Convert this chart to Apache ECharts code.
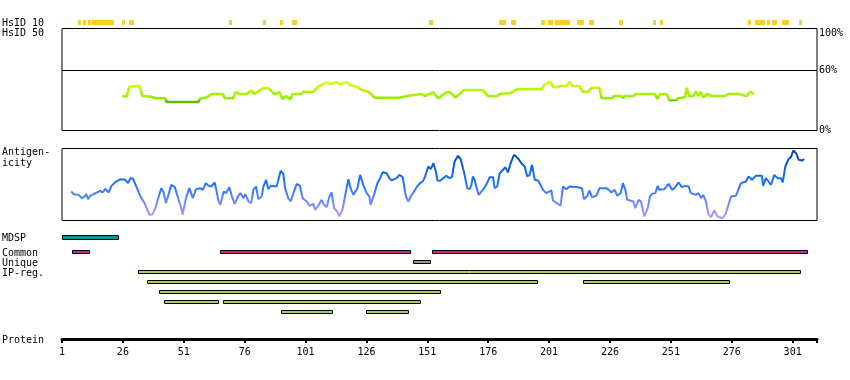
<!DOCTYPE html>
<html><head><meta charset="utf-8">
<script src="https://cdn.jsdelivr.net/npm/echarts@6/dist/echarts.min.js"></script>
<style>html,body{margin:0;padding:0;background:#fff}#c{width:850px;height:380px}</style>
</head><body><div id="c"></div>
<script>
// ---------- DATA ----------
const proteinLength = 311;
const positionTicks = [1, 26, 51, 76, 101, 126, 151, 176, 201, 226, 251, 276, 301];
const hsidTicks = [0, 60, 100];
const hsidThreshold = 60;
const trackLabels = ['HsID 10', 'HsID 50', 'Antigen-', 'icity', 'MDSP', 'Common', 'Unique', 'IP-reg.', 'Protein'];

// HsID 10 identity hits [first residue, last residue]
const hsid10 = [[8,8],[10,10],[12,12],[14,22],[26,26],[29,30],[70,70],[84,84],[91,91],[96,97],
  [152,153],[181,183],[186,187],[198,199],[201,202],[204,209],[213,215],[218,219],[230,231],
  [244,244],[247,247],[283,283],[286,289],[291,291],[293,294],[297,299],[304,304]];

// HsID 50 curve [residue, %]
const hsid50 = [[25.8,34.2],[27.6,34.2],[28.6,43.8],[32.7,44.5],[34.1,34.5],[37.8,33.8],[39.2,32.2],[43.3,32.2],
  [44,28.5],[57,28.5],[57.7,31.8],[60.4,33.2],[62.5,36.5],[67,36.5],[67.9,32.2],[71.1,32.2],[72.4,38.5],
  [73.8,36.5],[76.8,36.5],[78.9,40.2],[79.8,36.5],[81.6,39.2],[83.6,42.5],[85.7,42.2],[88.4,36.2],[90.2,38.5],
  [91.6,31.5],[93,34.5],[94.6,31.2],[95.7,36.5],[99.4,36.5],[100.1,38.8],[104.2,38.8],[106.2,43.8],[109.7,48.2],
  [111,46.5],[113.8,48.2],[115.1,46.5],[117.9,48.2],[119.2,45.5],[122.6,43.2],[124,40.5],[126.8,38.8],[129.5,32.8],
  [139.1,32.8],[139.8,34.8],[143.2,34.8],[143.9,36.5],[148.7,36.5],[150,34.5],[153.4,38.2],[155.5,32.2],[157.5,36.2],
  [159.6,38.8],[161,37.2],[162.4,33.2],[164.4,36.5],[165.8,40.5],[173.7,40.5],[176,34.5],[179.7,34.5],[180.8,36.5],
  [184.9,37.2],[187.7,41.2],[197.9,41.2],[199.3,46.5],[201.4,48.8],[202.7,43.8],[204.4,43.2],[205.7,44.5],[208.2,44.5],
  [209.3,48.8],[210.7,44.5],[213.4,44.5],[214.8,38.8],[217.1,38.8],[218.5,42.8],[221.6,42.8],[222.6,32.2],[226.7,32.2],
  [227.6,34.5],[230.8,34.5],[231.4,32.2],[232.1,34.5],[235.6,34.5],[236.7,36.5],[244.5,36.5],[245.4,31.5],[246.5,36.5],
  [249.3,36.5],[250.3,30.5],[253.1,30.5],[254,32.2],[256.8,33.2],[257.5,42.8],[258.6,34.5],[260.2,34.5],[261.3,39.5],
  [262.2,34.5],[263.2,38.8],[264.3,33.2],[265.9,36.5],[267.7,34.5],[268.4,33.8],[273.2,34.5],[274.6,36.5],[278.7,36.5],
  [279.4,34.5],[282.1,34.5],[283.5,38.8],[285.1,36.5]];

// Antigenicity profile [residue, relative score]
const antigenicity = [[4.8,40.3],[5.8,36.6],[7.8,35.6],[9.2,31.0],[10.3,33.3],[10.9,36.6],[11.7,29.6],[12.6,34.3],[14.7,38.0],
  [16.7,41.2],[17.7,38.9],[18.8,44.0],[20.2,38.9],[21.3,48.1],[22.9,53.2],[25.0,57.4],[27.0,56.5],[28.1,51.9],[29.1,58.8],
  [30.2,57.9],[31.4,48.1],[33.2,33.3],[34.9,24.1],[36.9,7.9],[38.2,8.8],[39.3,17.1],[40.7,33.3],[41.8,44.9],[42.7,38.9],
  [43.7,24.1],[44.5,25.0],[45.9,49.5],[47.3,46.3],[48.9,28.7],[50.0,17.1],[50.5,7.9],[51.9,31.0],[53.3,44.9],[54.7,31.0],
  [56.0,43.5],[57.8,44.9],[58.8,42.6],[60.1,51.9],[61.2,48.1],[62.3,47.2],[63.7,52.8],[64.2,44.9],[65.3,26.4],[66.0,21.8],
  [67.4,40.3],[68.3,38.0],[69.7,46.3],[70.8,33.3],[71.9,23.1],[73.3,33.3],[74.2,38.0],[75.6,31.0],[76.3,36.6],[77.6,26.4],
  [78.7,24.1],[79.6,42.6],[80.7,47.2],[81.6,29.6],[83.0,33.3],[83.7,47.2],[84.8,56.5],[85.7,43.5],[86.7,48.1],[89.1,47.2],
  [90.2,61.1],[90.8,69.0],[91.9,64.8],[92.6,44.9],[93.9,31.0],[94.9,26.4],[96.0,38.0],[97.4,50.9],[98.7,48.1],[99.8,31.0],
  [101.5,26.4],[102.6,20.4],[104.2,23.1],[104.9,14.8],[106.2,20.4],[107.6,28.7],[108.6,21.8],[109.7,18.5],[110.8,33.3],
  [111.7,38.9],[112.7,17.1],[114.0,12.5],[114.9,5.6],[116.2,15.7],[117.2,33.3],[118.6,57.4],[119.5,44.9],[120.6,35.6],
  [122.3,44.9],[123.4,63.4],[124.7,49.5],[126.1,38.0],[127.2,33.3],[127.7,21.8],[129.1,35.6],[130.5,51.9],[131.6,58.8],
  [132.7,67.1],[134.3,65.7],[135.4,58.8],[136.4,55.6],[138.4,58.8],[139.5,63.4],[140.9,60.2],[141.4,49.5],[142.2,33.3],
  [143.2,26.4],[144.2,33.3],[145.3,38.9],[146.6,46.3],[148.0,51.9],[149.1,54.2],[150.0,60.2],[151.4,75.0],[152.4,71.3],
  [153.5,79.6],[154.6,67.1],[155.1,55.6],[156.2,55.1],[157.0,54.2],[158.8,62.0],[160.2,58.8],[161.1,60.2],[162.2,81.9],
  [163.6,89.8],[164.7,85.2],[166.0,68.1],[167.4,44.9],[168.4,43.5],[169.1,49.5],[169.7,61.1],[170.4,56.5],[171.1,47.2],
  [172.1,35.6],[172.9,33.3],[173.8,42.6],[175.2,49.5],[176.6,60.2],[178.0,60.2],[178.6,44.9],[179.7,47.2],[180.7,65.7],
  [182.1,70.4],[183.0,74.1],[184.1,66.7],[185.2,79.6],[186.6,91.2],[188.2,86.6],[189.6,79.6],[191.0,75.0],[192.0,61.1],
  [193.0,63.4],[194.0,77.3],[195.1,56.5],[196.4,55.6],[197.1,51.9],[198.5,42.6],[199.8,38.0],[201.9,41.7],[202.6,27.8],
  [204.6,23.1],[205.7,20.4],[206.7,47.2],[208.1,43.5],[209.4,47.2],[212.8,46.3],[214.5,44.9],[215.3,29.6],[216.7,34.3],
  [217.6,41.7],[218.6,32.4],[220.4,34.3],[221.7,44.9],[224.5,44.9],[225.8,41.7],[226.5,38.9],[227.9,42.6],[229.0,34.3],
  [230.4,38.0],[231.3,51.9],[232.3,42.6],[233.1,28.7],[233.7,27.8],[235.6,26.4],[236.4,17.1],[237.8,28.7],[238.7,26.4],
  [240.1,5.6],[240.8,3.2],[241.5,17.1],[242.4,33.3],[243.2,37.0],[244.6,38.0],[245.6,48.1],[246.2,42.6],[248.3,43.5],
  [250.1,50.9],[251.5,42.6],[252.4,44.9],[253.1,42.6],[254.2,52.8],[255.5,46.3],[256.9,48.1],[258.3,47.2],[259.2,38.0],
  [261.3,35.6],[262.4,38.0],[263.4,31.0],[264.3,35.6],[265.4,26.4],[266.5,7.9],[267.5,4.6],[268.8,13.9],[270.2,5.6],
  [272.2,3.2],[273.6,10.2],[275.7,33.3],[277.7,34.3],[279.8,51.9],[281.8,54.2],[282.9,61.1],[284.3,56.5],[285.9,62.0],
  [288.4,62.0],[288.9,48.1],[290.0,58.8],[291.1,54.2],[292.1,49.5],[293.5,63.4],[294.8,58.8],[296.2,58.8],[296.9,52.8],
  [298.0,75.0],[299.3,85.2],[300.3,88.0],[301.3,97.2],[302.4,93.5],[303.5,84.3],[304.8,83.3],[305.8,85.2]];

// Feature tracks [start, end]
const mdsp = [[1, 24]];
const common = [[5, 12], [66, 144], [153, 307]];
const unique = [[145, 152]];
const ipRegions = [
  [[32, 304]],
  [[36, 196], [215, 275]],
  [[41, 156]],
  [[43, 65], [67, 148]],
  [[91, 112], [126, 143]]
];

// ---------- CHART ----------
const FONT = '"DejaVu Sans Mono", monospace';
const chart = echarts.init(document.getElementById('c'), null, {renderer: 'canvas'});

const rowCommon = 0, rowUnique = 1, rowIpFirst = 2;
const commonData = common.map(r => [r[0], r[1], rowCommon]);
const uniqueData = unique.map(r => [r[0], r[1], rowUnique]);
const ipData = [];
ipRegions.forEach((lane, i) => lane.forEach(r => ipData.push([r[0], r[1], rowIpFirst + i])));
const trackRows = ['Common', 'Unique', 'IP-reg.', 'ip2', 'ip3', 'ip4', 'ip5'];

function barRenderer(fill, frac) {
  return function (params, api) {
    const s = api.coord([api.value(0), api.value(2)]);
    const e = api.coord([api.value(1), api.value(2)]);
    const band = api.size([0, 1])[1];
    const h = Math.round(band * frac);
    const x0 = Math.round(s[0]), x1 = Math.round(e[0]);
    const y0 = Math.floor(s[1] - h / 2) + 0.5;
    return {type: 'rect', shape: {x: x0 + 0.5, y: y0, width: x1 - x0, height: h},
      style: {fill: fill, stroke: '#000', lineWidth: 1}};
  };
}

const L = 62, R = 33;
const grids = [
  {left: L, right: R, top: 20, height: 5},
  {left: L, right: R, top: 28.5, height: 102, show: true, borderColor: '#000', borderWidth: 1},
  {left: L, right: R, top: 148.5, height: 72, show: true, borderColor: '#000', borderWidth: 1},
  {left: L, right: R, top: 232.5, height: 10},
  {left: L, right: R, top: 247, height: 70},
  {left: L, right: R, top: 329, height: 10}
];
const hiddenX = i => ({type: 'value', gridIndex: i, min: 1, max: proteinLength, show: false});

const labelY = [22.8, 32.8, 152.2, 162.8, 237.5, 252.5, 262.5, 272.8, 339.5];

const option = {
  animation: false,
  backgroundColor: '#fff',
  grid: grids,
  xAxis: [
    hiddenX(0), hiddenX(1), hiddenX(2), hiddenX(3), hiddenX(4),
    {type: 'value', gridIndex: 5, min: 1, max: proteinLength, position: 'bottom',
      axisLine: {onZero: false, lineStyle: {color: '#000', width: 3}},
      axisTick: {show: true, length: 4, customValues: positionTicks.concat([proteinLength]),
        lineStyle: {color: '#000', width: 2}},
      axisLabel: {customValues: positionTicks, margin: 8, color: '#000', fontFamily: FONT, fontSize: 10},
      splitLine: {show: false}}
  ],
  yAxis: [
    {type: 'value', gridIndex: 0, min: 0, max: 1, show: false},
    {type: 'value', gridIndex: 1, min: 0, max: 102, interval: 20, position: 'right',
      axisLine: {show: false}, axisTick: {show: false}, splitLine: {show: false},
      axisLabel: {margin: 2, color: '#000', fontFamily: FONT, fontSize: 10,
        formatter: v => hsidTicks.indexOf(v) < 0 ? '' : (v === 100 ? '{top|' + v + '%}' : v + '%'),
        rich: {top: {padding: [6, 0, 0, 0], fontFamily: FONT, fontSize: 10, color: '#000'}}}},
    {type: 'value', gridIndex: 2, min: 0, max: 100, show: false},
    {type: 'category', gridIndex: 3, data: ['MDSP'], inverse: true, show: false},
    {type: 'category', gridIndex: 4, data: trackRows, inverse: true, show: false},
    {type: 'value', gridIndex: 5, min: 0, max: 1, show: false}
  ],
  visualMap: [
    {type: 'piecewise', show: false, seriesIndex: 1, dimension: 1,
      pieces: [
        {lt: 31, color: '#66bb00'},
        {gte: 31, lt: 35, color: '#99ee00'},
        {gte: 35, lt: 39, color: '#a8f200'},
        {gte: 39, lt: 43, color: '#b8f600'},
        {gte: 43, lt: 47, color: '#c8fa10'},
        {gte: 47, color: '#d8ff10'}
      ]},
    {type: 'continuous', show: false, seriesIndex: 2, dimension: 1, min: 0, max: 100,
      inRange: {color: ['#b4a4ff', '#8c90ff', '#4f82ff', '#2473ff', '#1268ee', '#0656c8', '#00449c']}}
  ],
  series: [
    {type: 'custom', name: 'HsID 10', xAxisIndex: 0, yAxisIndex: 0, data: hsid10, encode: {x: [0, 1]},
      renderItem: function (params, api) {
        const a = api.coord([api.value(0) - 0.5, 1]);
        const b = api.coord([api.value(1) + 0.5, 0]);
        const x0 = Math.round(a[0]), x1 = Math.round(b[0]);
        return {type: 'rect', shape: {x: x0, y: a[1], width: Math.max(x1 - x0, 3), height: b[1] - a[1]},
          style: {fill: '#ffcc22'}};
      }},
    {type: 'line', name: 'HsID 50', xAxisIndex: 1, yAxisIndex: 1, data: hsid50, showSymbol: false,
      lineStyle: {width: 2.6}, silent: true,
      markLine: {silent: true, symbol: 'none', label: {show: false},
        lineStyle: {color: '#000', width: 1, type: 'solid'}, data: [{yAxis: hsidThreshold}]}},
    {type: 'line', name: 'Antigenicity', xAxisIndex: 2, yAxisIndex: 2, data: antigenicity, showSymbol: false,
      lineStyle: {width: 2}, silent: true},
    {type: 'custom', name: 'MDSP', xAxisIndex: 3, yAxisIndex: 3, data: mdsp.map(r => [r[0], r[1], 0]),
      encode: {x: [0, 1], y: 2}, renderItem: barRenderer('#009999', 0.4)},
    {type: 'custom', name: 'Common', xAxisIndex: 4, yAxisIndex: 4, data: commonData,
      encode: {x: [0, 1], y: 2}, renderItem: barRenderer('#cc2299', 0.3)},
    {type: 'custom', name: 'Unique', xAxisIndex: 4, yAxisIndex: 4, data: uniqueData,
      encode: {x: [0, 1], y: 2}, renderItem: barRenderer('#999999', 0.3)},
    {type: 'custom', name: 'IP-reg.', xAxisIndex: 4, yAxisIndex: 4, data: ipData,
      encode: {x: [0, 1], y: 2}, renderItem: barRenderer('#a4cf5a', 0.3)}
  ],
  graphic: trackLabels.map((t, i) => ({
    type: 'text', left: 2, top: labelY[i] - 4.5, silent: true,
    style: {text: t, font: '10px ' + FONT, fill: '#000'}
  }))
};
chart.setOption(option);
</script>
</body></html>
